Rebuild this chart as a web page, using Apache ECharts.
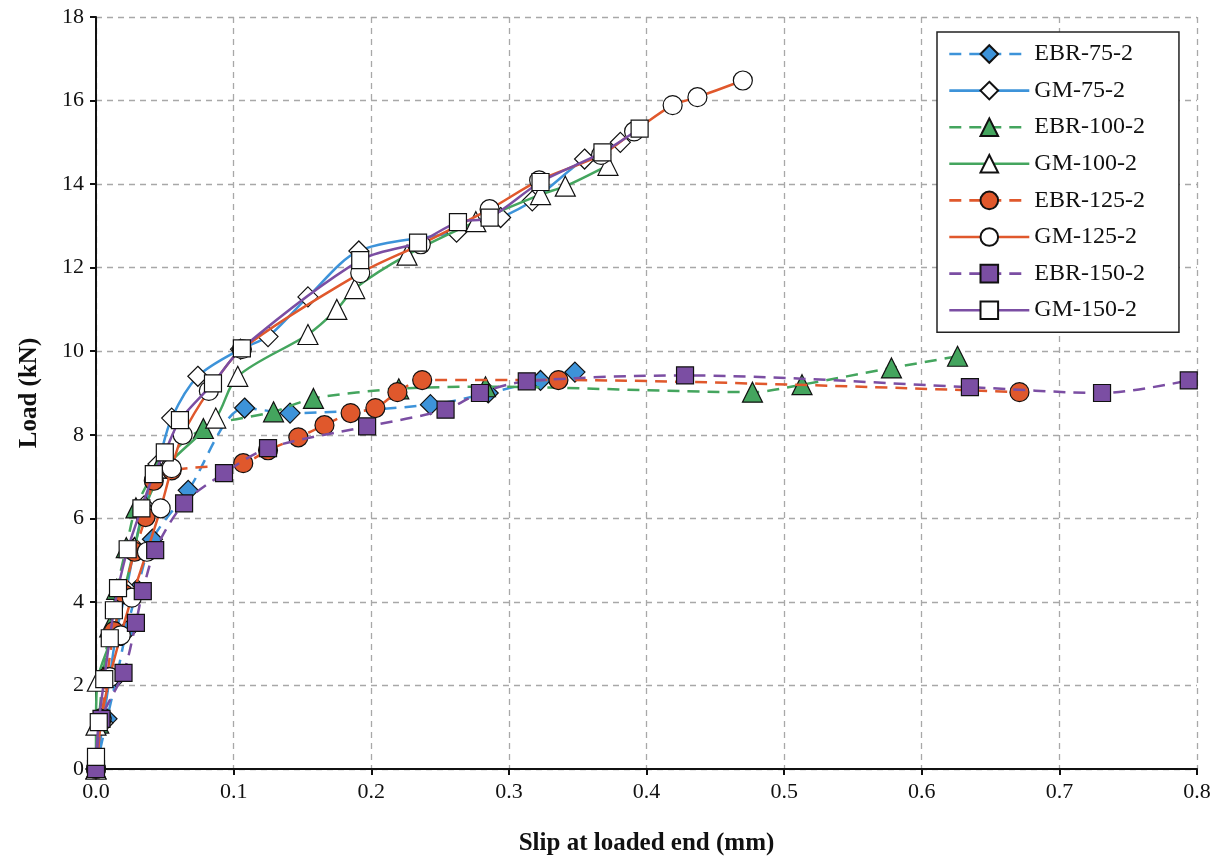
<!DOCTYPE html>
<html>
<head>
<meta charset="utf-8">
<script src="https://cdn.jsdelivr.net/npm/echarts@6/dist/echarts.min.js"></script>
<style>
  html, body { margin: 0; padding: 0; background: #fff; }
  #chart { width: 1220px; height: 864px; }
</style>
</head>
<body>
<div id="chart"></div>
<script>
// slip (mm), load (kN)
var ebr75 = [[0,0],[0.008,1.2],[0.015,2.2],[0.022,3.3],[0.03,4.3],[0.041,5.5],[0.067,6.67],[0.108,8.64],[0.141,8.52],[0.243,8.72],[0.285,9.0],[0.323,9.3],[0.348,9.5]];
var gm75 = [[0,0],[0.005,1.1],[0.01,2.2],[0.015,3.3],[0.022,4.3],[0.028,5.3],[0.035,6.3],[0.045,7.3],[0.055,8.4],[0.074,9.4],[0.105,10.05],[0.125,10.35],[0.154,11.3],[0.191,12.4],[0.262,12.85],[0.294,13.2],[0.317,13.6],[0.355,14.6],[0.381,15.0]];
var ebr100 = [[0,0],[0.002,1.1],[0.005,2.2],[0.01,3.4],[0.015,4.3],[0.022,5.3],[0.029,6.25],[0.045,7.2],[0.078,8.15],[0.129,8.55],[0.158,8.87],[0.22,9.1],[0.283,9.15],[0.477,9.02],[0.513,9.2],[0.578,9.6],[0.626,9.88]];
var gm100 = [[0,0],[0,1.05],[0.001,2.1],[0.012,3.2],[0.02,4.2],[0.028,5.3],[0.036,6.3],[0.05,7.2],[0.087,8.4],[0.103,9.4],[0.154,10.4],[0.175,11.0],[0.188,11.5],[0.226,12.3],[0.276,13.1],[0.323,13.75],[0.341,13.95],[0.372,14.45]];
var ebr125 = [[0,0],[0.004,1.22],[0.008,2.2],[0.013,3.3],[0.02,4.2],[0.028,5.2],[0.036,6.03],[0.042,6.9],[0.055,7.15],[0.107,7.32],[0.125,7.63],[0.147,7.94],[0.166,8.23],[0.185,8.52],[0.203,8.64],[0.219,9.02],[0.237,9.31],[0.336,9.31],[0.671,9.02]];
var gm125 = [[0,0],[0.004,1.2],[0.01,2.2],[0.018,3.2],[0.026,4.1],[0.037,5.2],[0.047,6.24],[0.055,7.2],[0.063,8.0],[0.082,9.05],[0.106,10.05],[0.192,11.87],[0.236,12.56],[0.286,13.4],[0.322,14.09],[0.367,14.7],[0.391,15.26],[0.419,15.89],[0.437,16.08],[0.47,16.48]];
var ebr150 = [[0,0],[0.004,1.2],[0.02,2.3],[0.029,3.5],[0.034,4.26],[0.043,5.24],[0.064,6.36],[0.093,7.08],[0.125,7.68],[0.197,8.2],[0.254,8.6],[0.279,9.0],[0.313,9.28],[0.428,9.42],[0.635,9.14],[0.731,9.0],[0.794,9.3]];
var gm150 = [[0,0.29],[0.002,1.12],[0.006,2.15],[0.01,3.13],[0.013,3.8],[0.016,4.33],[0.023,5.26],[0.033,6.24],[0.042,7.06],[0.05,7.58],[0.061,8.35],[0.085,9.23],[0.106,10.07],[0.192,12.18],[0.234,12.6],[0.263,13.09],[0.286,13.2],[0.323,14.05],[0.368,14.76],[0.395,15.33]];

var names = ['EBR-75-2','GM-75-2','EBR-100-2','GM-100-2','EBR-125-2','GM-125-2','EBR-150-2','GM-150-2'];
var datasets = [ebr75, gm75, ebr100, gm100, ebr125, gm125, ebr150, gm150];
var colors = ['#3d93d9','#3d93d9','#44a55e','#44a55e','#e0582c','#e0582c','#7b4ea3','#7b4ea3'];
var symbols = ['diamond','diamond','triangle','triangle','circle','circle','rect','rect'];
var sizes = [20,20,20,20,19,19,17,17];

var font = '"Liberation Serif", "Times New Roman", serif';

var series = names.map(function (n, i) {
  var dashed = n.indexOf('EBR') === 0;
  return {
    name: n,
    type: 'line',
    data: datasets[i],
    smooth: 0.3,
    symbol: symbols[i],
    symbolSize: sizes[i],
    lineStyle: { color: colors[i], width: 2.5, type: dashed ? [12, 8] : 'solid' },
    itemStyle: { color: dashed ? colors[i] : '#fff', borderColor: '#111', borderWidth: 1.2 },
    z: 2 + i
  };
});

var myChart = echarts.init(document.getElementById('chart'));
var option = {
  animation: false,
  backgroundColor: '#fff',
  textStyle: { fontFamily: font },
  grid: { left: 96, right: 23, top: 17, bottom: 95 },
  legend: {
    data: names,
    orient: 'vertical',
    left: 937,
    top: 32,
    padding: [10, 34, 10, 11],
    itemWidth: 80,
    itemHeight: 22,
    itemGap: 12.6,
    lineStyle: { width: 2.6 },
    backgroundColor: '#fff',
    borderColor: '#222',
    borderWidth: 1.5,
    borderRadius: 0,
    textStyle: { fontFamily: font, fontSize: 24, color: '#111' }
  },
  xAxis: {
    type: 'value',
    min: 0, max: 0.8, interval: 0.1,
    name: 'Slip at loaded end (mm)',
    nameLocation: 'middle',
    nameGap: 62,
    nameTextStyle: { fontFamily: font, fontSize: 25, fontWeight: 'bold', color: '#111' },
    axisLine: { show: true, lineStyle: { color: '#111', width: 2 } },
    axisTick: { show: true, length: 6, lineStyle: { color: '#111', width: 2 } },
    axisLabel: { fontFamily: font, fontSize: 22, color: '#111', margin: 12, formatter: function (v) { return v.toFixed(1); } },
    splitLine: { show: true, lineStyle: { color: '#a8a8a8', width: 1.3, type: [6, 5] } }
  },
  yAxis: {
    type: 'value',
    min: 0, max: 18, interval: 2,
    name: 'Load (kN)',
    nameLocation: 'middle',
    nameGap: 54,
    nameRotate: 90,
    nameTextStyle: { fontFamily: font, fontSize: 25, fontWeight: 'bold', color: '#111' },
    axisLine: { show: true, lineStyle: { color: '#111', width: 2 } },
    axisTick: { show: true, length: 6, lineStyle: { color: '#111', width: 2 } },
    axisLabel: { fontFamily: font, fontSize: 22, color: '#111', margin: 12 },
    splitLine: { show: true, lineStyle: { color: '#a8a8a8', width: 1.3, type: [6, 5] } }
  },
  series: series
};
option && myChart.setOption(option);
</script>
</body>
</html>
